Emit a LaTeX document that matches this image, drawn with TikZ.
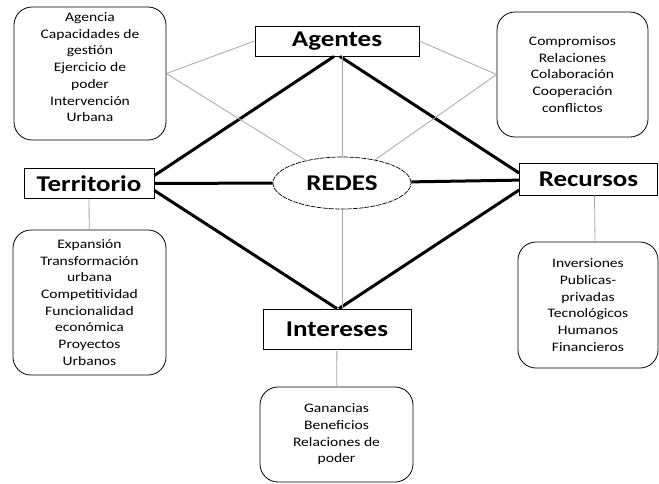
\documentclass[tikz,border=0pt]{standalone}
\usepackage{fontspec}
\setmainfont{Carlito}[FakeStretch=1.2]
\usepackage{tikz}
\usetikzlibrary{shapes.geometric,positioning}

\begin{document}
\begin{tikzpicture}[x=1pt,y=-1pt,node distance=142pt]
            \tikzstyle{hub}=[draw,rectangle,fill=white,font=\fontsize{22.5}{26}\selectfont\bfseries,inner sep=0pt,minimum height=30pt,line width=0.8pt]
            \tikzstyle{note}=[draw,rectangle,rounded corners=18pt,align=center,font=\fontsize{13}{16.7}\selectfont,inner sep=0pt,line width=0.8pt]
            \tikzstyle{fuerte}=[line width=3pt,black]
            \tikzstyle{debil}=[line width=0.8pt,gray!70]

            \useasboundingbox (0,0) rectangle (659,483);

            \node[ellipse,draw,dash pattern=on 5pt off 1pt,line width=0.7pt,fill=white,minimum width=138pt,minimum height=52pt,inner sep=0pt,font=\fontsize{22.5}{26}\selectfont\bfseries] (redes) at (342,183) {REDES};
            \node[hub,minimum width=164pt] (agentes)   [above of=redes,xshift=-5pt]                     {Agentes};
            \node[hub,minimum width=148pt,minimum height=40pt] (intereses) [below of=redes,xshift=-5pt,yshift=-4pt] {Intereses};
            \node[hub,minimum width=130pt] (territorio) at (89,183.5)  {Territorio};
            \node[hub,minimum width=138pt,minimum height=32pt] (recursos)   at (588.5,179) {Recursos};

            \node[note,minimum width=152pt,minimum height=133pt] (agencia) at (90,73.5)
                {Agencia\\Capacidades de\\gestión\\Ejercicio de\\poder\\Intervención\\Urbana\\[-4pt]};
            \node[note,minimum width=151pt,minimum height=125pt] (compromisos) at (572.5,74.5)
                {Compromisos\\Relaciones\\Colaboración\\Cooperación\\conflictos};
            \node[note,minimum width=153pt,minimum height=145pt] (expansion) at (89.5,302.5)
                {Expansión\\Transformación\\urbana\\Competitividad\\Funcionalidad\\económica\\Proyectos\\Urbanos};
            \node[note,minimum width=140pt,minimum height=126pt] (inversiones) at (588,305)
                {Inversiones\\Publicas-\\privadas\\Tecnológicos\\Humanos\\Financieros};
            \node[note,minimum width=153pt,minimum height=95pt] (ganancias) at (336.5,434.5)
                {Ganancias\\Beneficios\\Relaciones de\\poder};

            \path   ([yshift=8pt]territorio.east) edge [fuerte] ([xshift=-3pt]agentes.south)
                    ([yshift=-7pt]territorio.east) edge [fuerte] (intereses.north)
                    (territorio) edge [fuerte] (redes)
                    (recursos)   edge [fuerte] (redes)
                    ([yshift=6pt]recursos.west) edge [fuerte] ([xshift=3pt]agentes.south)
                    ([yshift=-11pt]recursos.west) edge [fuerte] ([xshift=2pt]intereses.north);

            \path   (agencia.east)     edge [debil] (agentes.west)
                                       edge [debil] (redes)
                    (compromisos.west) edge [debil] (agentes.east)
                                       edge [debil] (redes)
                    ([xshift=5pt]agentes.south) edge [debil] (redes.north)
                    (redes.south)      edge [debil] ([xshift=5pt]intereses.north)
                    (territorio)       edge [debil] (expansion)
                    ([xshift=6pt]recursos.south) edge [debil] ([xshift=7pt]inversiones.north)
                    (intereses)        edge [debil] (ganancias);

        \end{tikzpicture}
\end{document}
